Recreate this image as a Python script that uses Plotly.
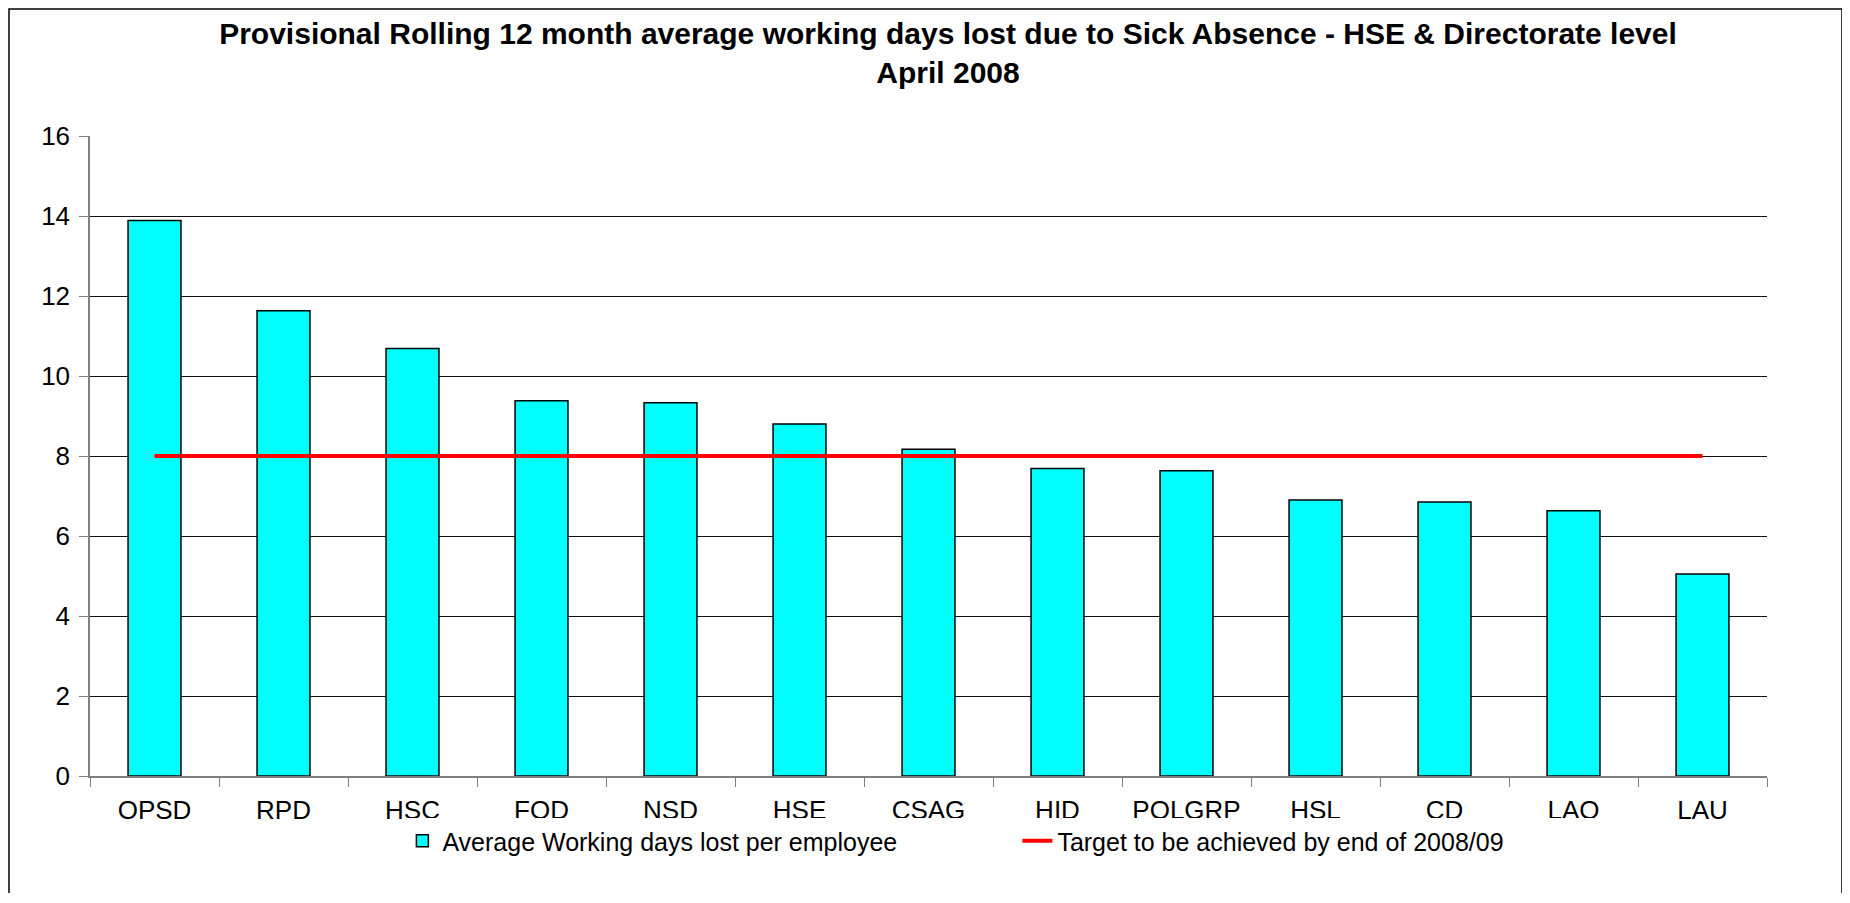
import plotly.graph_objects as go

categories = ["OPSD", "RPD", "HSC", "FOD", "NSD", "HSE", "CSAG", "HID", "POLGRP", "HSL", "CD", "LAO", "LAU"]
avg_days_lost = [13.89, 11.63, 10.69, 9.38, 9.33, 8.80, 8.17, 7.69, 7.63, 6.90, 6.85, 6.63, 5.05]
target = [8, 8, 8, 8, 8, 8, 8, 8, 8, 8, 8, 8, 8]
y_ticks = [0, 2, 4, 6, 8, 10, 12, 14, 16]

# the page body adds an 8px margin, so the figure is offset by 8px
OFF = 8
W, H = 1850 - OFF, 903 - 2 * OFF - 2
L = 90 - OFF
T = 136 - OFF
R = W - (1767 - OFF)
B = H - (776 - OFF)

fig = go.Figure()
fig.add_trace(go.Bar(
    x=categories, y=avg_days_lost,
    name="Average Working days lost per employee",
    marker=dict(color="#00FFFF", line=dict(color="black", width=1.5)),
))
fig.add_trace(go.Scatter(
    x=categories, y=target, mode="lines",
    name="Target to be achieved by end of 2008/09",
    line=dict(color="#FF0000", width=4),
))

font = "Liberation Sans, Arial, sans-serif"
pw, ph = W - L - R, H - T - B
fig.update_layout(
    width=W, height=H,
    margin=dict(l=L, r=R, t=T, b=B, autoexpand=False),
    paper_bgcolor="white", plot_bgcolor="white",
    font=dict(family=font, color="black", size=26),
    bargap=0.59,
    showlegend=True,
    title=dict(
        text="<b>Provisional Rolling 12 month average working days lost due to Sick Absence - HSE &amp; Directorate level<br>April 2008</b>",
        x=(948 - OFF) / W, xanchor="center", y=1 - 36 / H, yanchor="top",
        font=dict(size=30, family=font),
    ),
    legend=dict(
        orientation="h", x=0.553, xanchor="center", y=-(841 - 776) / ph, yanchor="middle",
        font=dict(size=25, family=font), traceorder="normal",
        entrywidth=570,
    ),
    xaxis=dict(
        type="category", showline=True, linecolor="#808080", linewidth=1.5,
        ticks="outside", tickson="boundaries", ticklen=9, tickcolor="#808080",
        tickfont=dict(size=26), showgrid=False, zeroline=False,
        ticklabelstandoff=10,
    ),
    yaxis=dict(
        range=[0, 16], tickvals=y_ticks, showline=True, linecolor="#808080", linewidth=1.5,
        ticks="outside", ticklen=9, tickcolor="#808080",
        showgrid=True, gridcolor="#101010", gridwidth=1, zeroline=False,
        tickfont=dict(size=26), ticklabelstandoff=4,
    ),
)
# outer chart border
fig.add_shape(type="rect", xref="paper", yref="paper",
              x0=(9 - OFF - L) / pw, x1=(1842 - OFF - L) / pw,
              y0=-(H + 5 - (H - B)) / ph, y1=1 + (T - 1) / ph,
              line=dict(color="black", width=1.5), layer="below")

fig.write_html("out.html")
